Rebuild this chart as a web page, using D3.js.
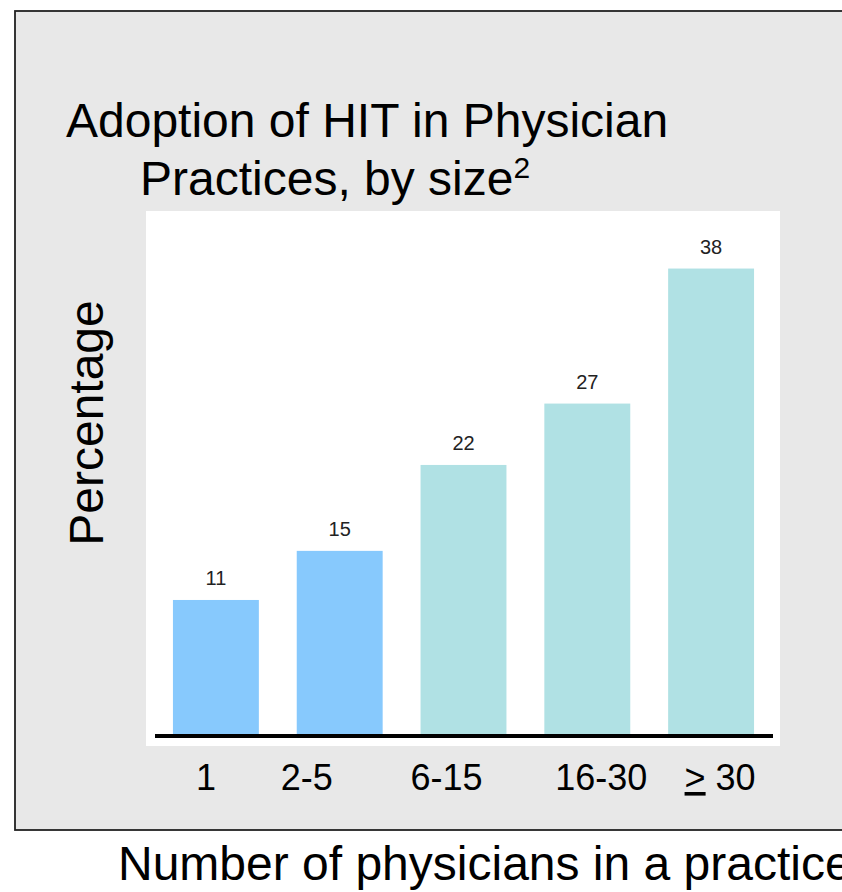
<!DOCTYPE html>
<html>
<head>
<meta charset="utf-8">
<script src="https://cdn.jsdelivr.net/npm/d3@7"></script>
<style>
  html, body { margin: 0; padding: 0; background: #ffffff; }
  svg { display: block; font-family: Arial, "Liberation Sans", sans-serif; }
</style>
</head>
<body>
<svg id="chart" width="842" height="892"></svg>
<script>
// Practice size groups and share of practices that adopted HIT (%)
const categories = ["1", "2-5", "6-15", "16-30", "\u2265 30"];
const values = [11, 15, 22, 27, 38];
const groups = ["small", "small", "large", "large", "large"];
const valueDomain = [0, 40];

const svg = d3.select("#chart");

// Slide-style grey panel with a dark frame
svg.append("rect")
  .attr("x", 15).attr("y", 11)
  .attr("width", 840).attr("height", 819)
  .attr("fill", "#e8e8e8")
  .attr("stroke", "#222").attr("stroke-width", 1.8);

// Title
const title = svg.append("text")
  .attr("font-size", 48).attr("fill", "#000");
title.append("tspan").attr("x", 66).attr("y", 137).text("Adoption of HIT in Physician");
const line2 = title.append("tspan").attr("x", 140).attr("y", 195);
line2.append("tspan").text("Practices, by size");
line2.append("tspan").attr("font-size", 30).attr("dy", -17).text("2");

// White plotting area
svg.append("rect")
  .attr("x", 146).attr("y", 211)
  .attr("width", 634).attr("height", 535)
  .attr("fill", "#ffffff");

const x = d3.scaleBand()
  .domain(categories)
  .range([154, 773])
  .paddingInner(0.306)
  .paddingOuter(0.153);

const y = d3.scaleLinear()
  .domain(valueDomain)
  .range([735, 244]);

const color = d3.scaleOrdinal()
  .domain(["small", "large"])
  .range(["#87c9fd", "#b0e1e4"]);

const data = categories.map((c, i) => ({ cat: c, value: values[i], group: groups[i] }));

// Bars
svg.append("g").selectAll("rect")
  .data(data)
  .join("rect")
  .attr("x", d => x(d.cat))
  .attr("y", d => y(d.value))
  .attr("width", x.bandwidth())
  .attr("height", d => y(0) - y(d.value))
  .attr("fill", d => color(d.group));

// Value labels above bars
svg.append("g").selectAll("text")
  .data(data)
  .join("text")
  .attr("x", d => x(d.cat) + x.bandwidth() / 2)
  .attr("y", d => y(d.value) - 15)
  .attr("text-anchor", "middle")
  .attr("font-size", 20)
  .attr("fill", "#222")
  .text(d => d.value);

// Baseline
svg.append("line")
  .attr("x1", 155).attr("x2", 773)
  .attr("y1", y(0) + 1).attr("y2", y(0) + 1)
  .attr("stroke", "#000").attr("stroke-width", 4);

// Category labels along the bottom (hand-nudged off the bar centres, as laid out on the slide)
const tickNudge = [-10, -33, -17, 14, 9];
const xAxis = d3.axisBottom(x).tickSize(0).tickPadding(0);
const axisG = svg.append("g")
  .attr("transform", `translate(0, ${y(0)})`)
  .call(xAxis);
axisG.select(".domain").remove();
axisG.selectAll(".tick text")
  .attr("font-family", "Arial, 'Liberation Sans', sans-serif")
  .attr("font-size", 36)
  .attr("fill", "#000")
  .attr("dy", null)
  .attr("y", 55)
  .attr("x", (d, i) => tickNudge[i])
  .each(function(d) {
    if (d.startsWith("\u2265")) {
      const t = d3.select(this);
      t.text(null);
      t.append("tspan").attr("text-decoration", "underline").text(">");
      t.append("tspan").text(" 30");
    }
  });

// Axis titles
svg.append("text")
  .attr("transform", "translate(103, 423) rotate(-90)")
  .attr("text-anchor", "middle")
  .attr("font-size", 48)
  .attr("fill", "#000")
  .text("Percentage");

svg.append("text")
  .attr("x", 118).attr("y", 880)
  .attr("font-size", 48)
  .attr("fill", "#000")
  .text("Number of physicians in a practice");
</script>
</body>
</html>
